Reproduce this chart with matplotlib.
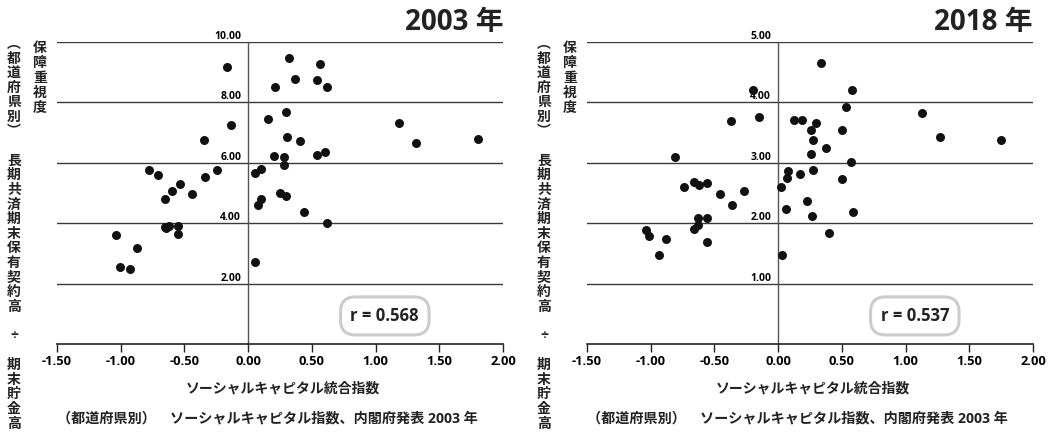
import matplotlib
matplotlib.use("Agg")
import matplotlib.pyplot as plt

plt.rcParams['font.family'] = ['Open Sans', 'Noto Sans CJK JP', 'DejaVu Sans']

# ソーシャルキャピタル統合指数 (x) と 保障重視度 (y)
x2003 = [-0.167, 0.324, 0.564, 0.366, 0.540, 0.214, 0.621, 0.298, 0.157, -0.131,
         1.183, -0.345, 0.308, 0.410, 1.321, 1.807, 0.206, 0.285, 0.538, 0.606,
         0.282, -0.775, -0.708, -0.248, -0.339, 0.050, 0.104, -0.535, -0.595, -0.444,
         -0.655, 0.248, 0.298, 0.097, 0.078, 0.439, 0.621, -0.655, -0.621, -0.548,
         -0.548, -1.037, -0.869, -1.005, -0.927, 0.050, -0.645]
y2003 = [9.18, 9.46, 9.27, 8.77, 8.73, 8.51, 8.51, 7.68, 7.44, 7.24,
         7.33, 6.77, 6.85, 6.71, 6.67, 6.78, 6.23, 6.20, 6.25, 6.37,
         5.94, 5.76, 5.60, 5.76, 5.52, 5.65, 5.80, 5.31, 5.06, 4.98,
         4.81, 5.01, 4.90, 4.80, 4.59, 4.36, 4.00, 3.86, 3.90, 3.90,
         3.65, 3.62, 3.18, 2.55, 2.48, 2.71, 3.84]

x2018 = [0.334, -0.196, 0.583, 0.530, 1.131, -0.368, -0.149, 0.128, 0.191, 0.298,
         0.256, 0.502, 1.270, 1.748, 0.272, 0.374, 0.256, -0.813, 0.570, 0.081,
         0.277, 0.175, 0.071, 0.504, -0.658, -0.619, -0.562, -0.742, 0.026, -0.455,
         -0.269, 0.230, -0.361, 0.060, 0.585, 0.269, -0.630, -0.562, -0.630, -0.658,
         -1.037, -1.011, -0.881, -0.562, 0.402, -0.938, 0.029]
y2018 = [4.66, 4.20, 4.21, 3.92, 3.83, 3.69, 3.75, 3.71, 3.71, 3.66,
         3.54, 3.54, 3.43, 3.38, 3.38, 3.25, 3.15, 3.10, 3.02, 2.86,
         2.88, 2.82, 2.75, 2.73, 2.68, 2.64, 2.67, 2.60, 2.60, 2.49,
         2.54, 2.37, 2.30, 2.24, 2.18, 2.12, 2.09, 2.08, 1.97, 1.90,
         1.88, 1.78, 1.74, 1.69, 1.84, 1.48, 1.48]

xticks = [-1.5, -1.0, -0.5, 0.0, 0.5, 1.0, 1.5, 2.0]
yticks2003 = [2, 4, 6, 8, 10]
yticks2018 = [1, 2, 3, 4, 5]

W, H = 1048, 434
fig = plt.figure(figsize=(W / 100, H / 100), dpi=100)


def panel(left_px, xs, ys, yticks, ymax, title, r_text):
    ax = fig.add_axes([left_px / W, 1 - 344 / H, 446 / W, 302 / H])
    ax.scatter(xs, ys, s=42, color='#111111', zorder=3, linewidths=0)
    ax.set_xlim(-1.5, 2.0)
    ax.set_ylim(0, ymax)
    for side in ['top', 'right']:
        ax.spines[side].set_visible(False)
    ax.spines['left'].set_position(('data', 0))
    ax.spines['left'].set_color('#555555')
    ax.spines['left'].set_linewidth(1.0)
    ax.spines['bottom'].set_color('#222222')
    ax.spines['bottom'].set_linewidth(1.2)

    ax.set_xticks(xticks)
    ax.set_xticklabels(['%.2f' % v for v in xticks], fontsize=9.3, fontweight='bold')
    ax.tick_params(axis='x', direction='out', length=6, width=1, pad=2, color='#222222')

    ax.set_yticks(yticks)
    ax.set_yticklabels(['%.2f' % v for v in yticks], fontsize=7.5, fontweight='bold')
    ax.tick_params(axis='y', length=0, pad=5)
    for lab in ax.get_yticklabels():
        lab.set_va('bottom')
    ax.yaxis.grid(True, color='#3a3a3a', linewidth=1.0)
    ax.set_axisbelow(True)

    ax.text(1.0, 1.015, title, transform=ax.transAxes, ha='right', va='bottom',
            fontsize=20, fontweight='bold', color='#222222')
    ax.text(0.735, 0.093, r_text, transform=ax.transAxes, ha='center', va='center',
            fontsize=12, fontweight='bold', color='#222222',
            bbox=dict(boxstyle='round,pad=0.6,rounding_size=0.9', fc='white',
                      ec='#cccccc', lw=2.2))
    ax.text(0.507, -0.146, 'ソーシャルキャピタル統合指数', transform=ax.transAxes,
            ha='center', va='center', fontsize=10, fontweight='bold', color='#222222')
    ax.text(0.0, -0.245, '（都道府県別）　ソーシャルキャピタル指数、内閣府発表 2003 年',
            transform=ax.transAxes, ha='left', va='center', fontsize=10.2,
            fontweight='bold', color='#222222')
    return ax


def vtext(x_px, y0_px, s, step):
    for i, ch in enumerate(s):
        fig.text(x_px / W, 1 - (y0_px + i * step) / H, ch, ha='center', va='center',
                 fontsize=10, fontweight='bold', color='#222222')


panel(57, x2003, y2003, yticks2003, 10, '2003 年', 'r = 0.568')
panel(587, x2018, y2018, yticks2018, 5, '2018 年', 'r = 0.537')

for off in [0, 530]:
    vtext(14 + off, 44, '︵都道府県別︶　長期共済期末保有契約高　÷　期末貯金高', 14.6)
    vtext(40 + off, 48, '保障重視度', 15)

fig.savefig('out.png', dpi=100)
